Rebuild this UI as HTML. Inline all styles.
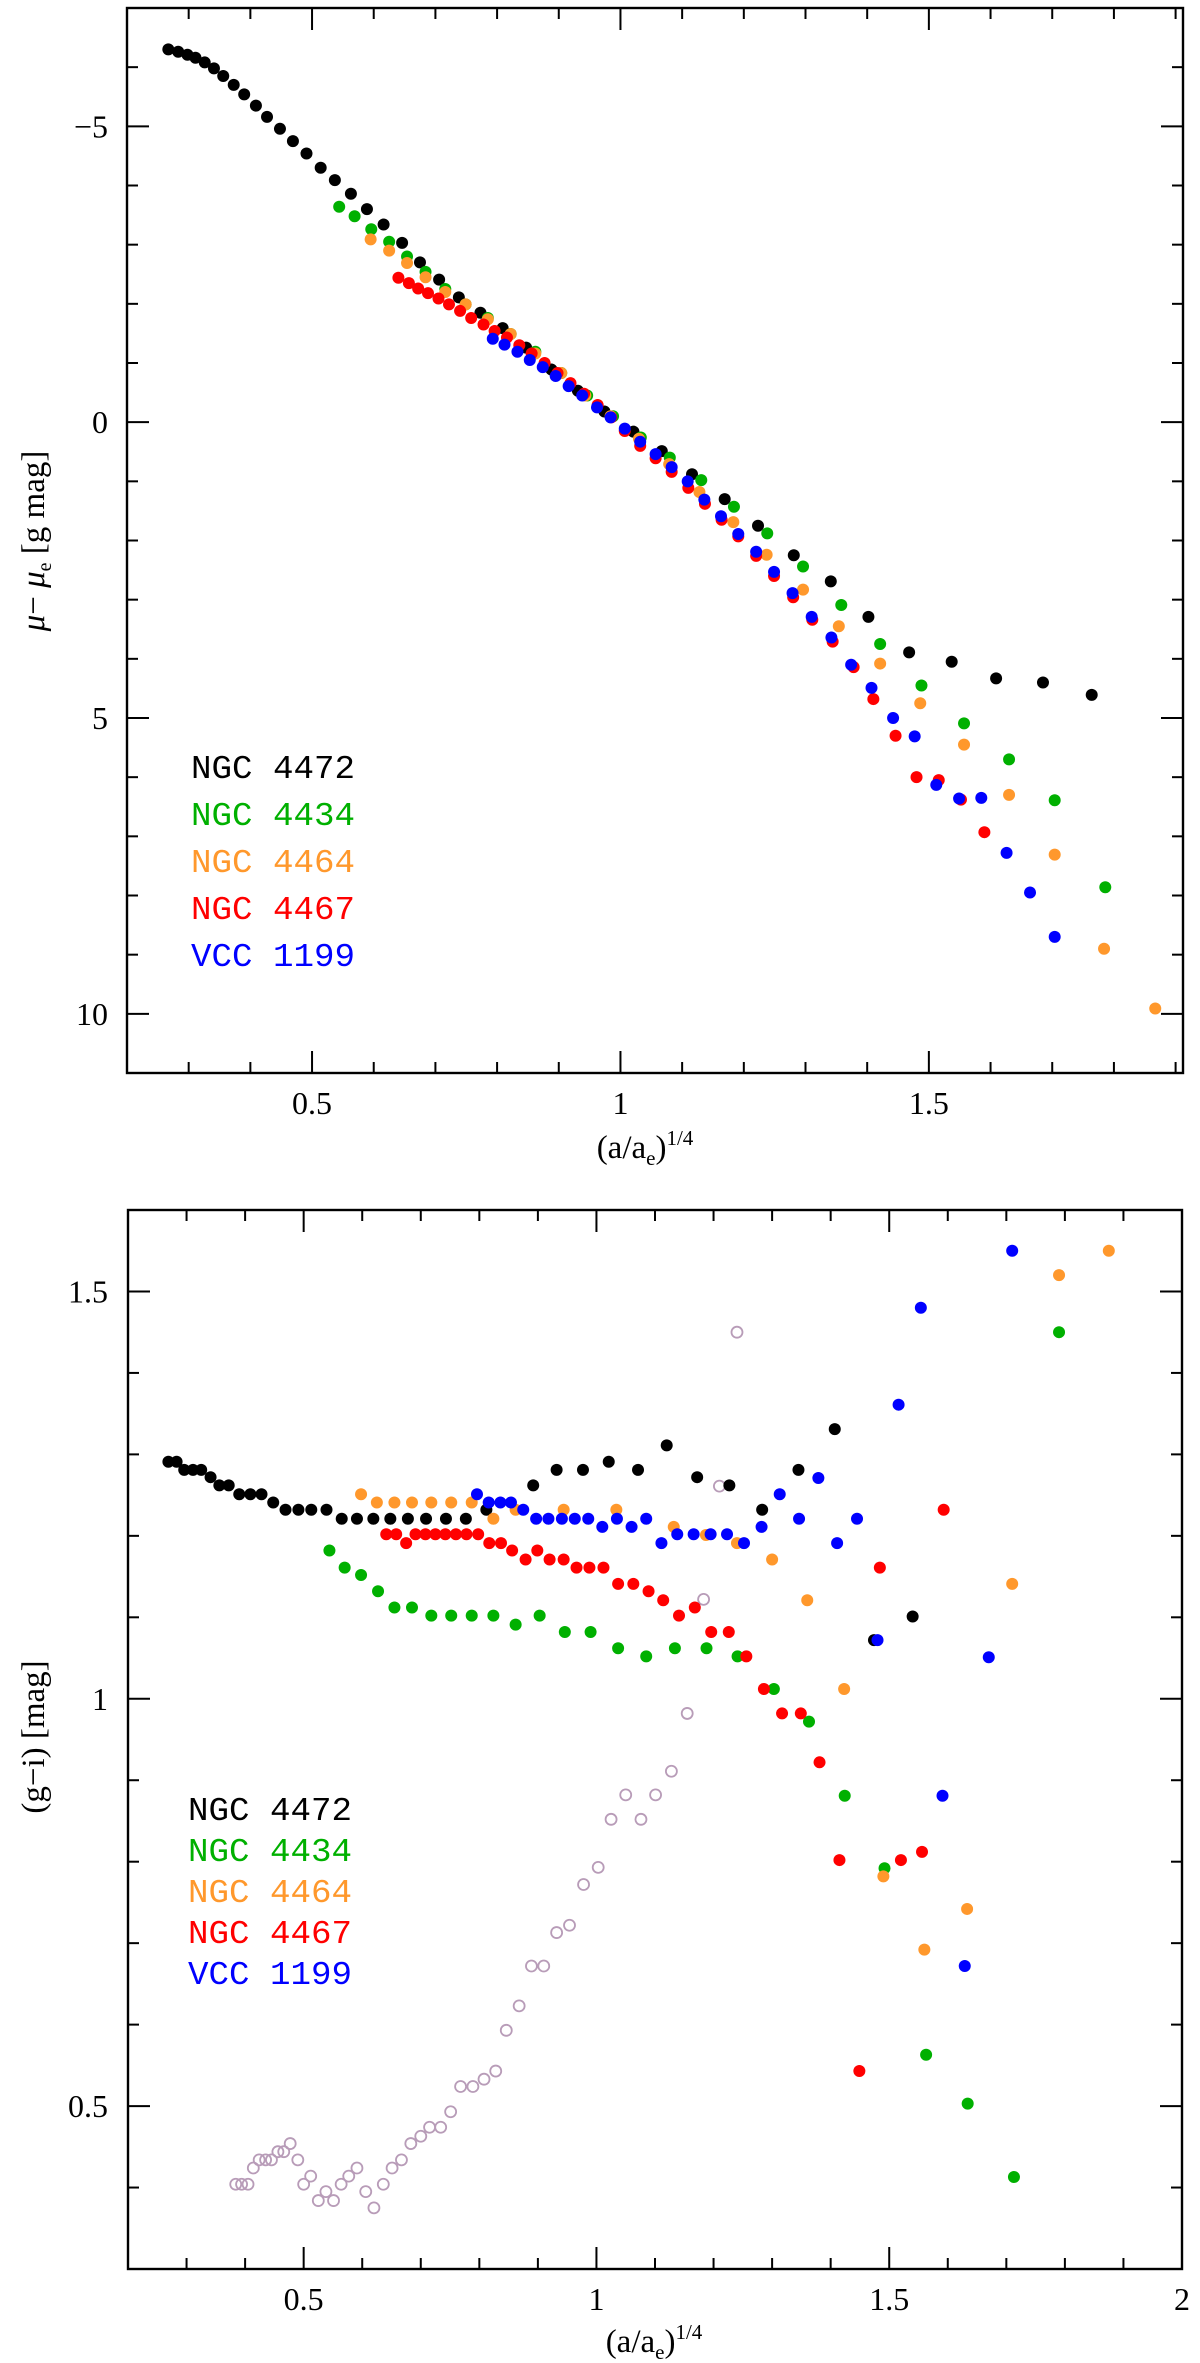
<!DOCTYPE html>
<html><head><meta charset="utf-8"><style>
html,body{margin:0;padding:0;background:#fff;}
svg{display:block;}
text{font-family:"Liberation Serif",serif;}
</style></head><body>
<svg id="fig" width="1200" height="2363" viewBox="0 0 1200 2363" xmlns="http://www.w3.org/2000/svg">
<g id="top"></g>
<g id="bot"></g>
<text x="645" y="1158" text-anchor="middle" font-size="33">(a/a<tspan font-size="21" dy="7">e</tspan><tspan dy="-7">)</tspan><tspan font-size="21" dy="-13">1/4</tspan></text>
<text transform="translate(44,541) rotate(-90)" text-anchor="middle" font-size="33"><tspan font-style="italic">μ</tspan>− <tspan font-style="italic">μ</tspan><tspan font-size="20" dy="7">e</tspan><tspan dy="-7"> [g mag]</tspan></text>
<text x="654" y="2352" text-anchor="middle" font-size="33">(a/a<tspan font-size="21" dy="7">e</tspan><tspan dy="-7">)</tspan><tspan font-size="21" dy="-13">1/4</tspan></text>
<text transform="translate(44,1737) rotate(-90)" text-anchor="middle" font-size="33">(g−i) [mag]</text>
</svg>
<script>
// ---- top panel data: (a/ae)^1/4 vs mu - mu_e ----
const topBlackX=[0.267,0.283,0.298,0.311,0.326,0.341,0.356,0.373,0.390,0.409,0.427,0.448,0.469,0.491,0.514,0.537,0.563,0.589,0.616,0.646,0.675,0.706,0.738,0.773,0.809,0.847,0.888,0.931,0.974,1.021,1.067,1.116,1.169,1.223,1.281,1.341,1.402,1.468,1.537,1.609,1.685,1.764];
const topBlackY=[-6.30,-6.26,-6.21,-6.16,-6.08,-5.98,-5.85,-5.70,-5.54,-5.35,-5.16,-4.96,-4.75,-4.54,-4.30,-4.09,-3.86,-3.60,-3.34,-3.03,-2.70,-2.41,-2.11,-1.85,-1.59,-1.26,-0.89,-0.53,-0.18,0.16,0.49,0.88,1.30,1.75,2.25,2.69,3.29,3.89,4.05,4.33,4.40,4.61];
const topGreenX=[0.544,0.569,0.596,0.625,0.654,0.684,0.716,0.749,0.785,0.822,0.862,0.904,0.946,0.988,1.033,1.080,1.131,1.184,1.238,1.296,1.358,1.421,1.488,1.557,1.630,1.704,1.786];
const topGreenY=[-3.64,-3.48,-3.26,-3.05,-2.80,-2.54,-2.25,-1.99,-1.76,-1.49,-1.19,-0.83,-0.45,-0.10,0.26,0.60,0.98,1.43,1.88,2.44,3.09,3.75,4.45,5.09,5.70,6.39,7.86];
const topOrangeX=[0.595,0.625,0.654,0.684,0.716,0.749,0.785,0.822,0.862,0.904,0.943,0.984,1.030,1.079,1.128,1.183,1.237,1.296,1.354,1.421,1.486,1.557,1.630,1.704,1.784,1.867];
const topOrangeY=[-3.09,-2.90,-2.69,-2.45,-2.20,-1.99,-1.74,-1.49,-1.16,-0.83,-0.45,-0.10,0.28,0.71,1.18,1.69,2.24,2.83,3.45,4.08,4.75,5.45,6.30,7.31,8.90,9.91];
const topRedX=[0.640,0.657,0.672,0.688,0.705,0.722,0.740,0.758,0.778,0.796,0.816,0.836,0.856,0.877,0.898,0.919,0.941,0.963,0.985,1.007,1.032,1.057,1.083,1.110,1.137,1.164,1.191,1.220,1.249,1.280,1.311,1.344,1.378,1.410,1.446,1.480,1.516,1.552,1.590];
const topRedY=[-2.44,-2.35,-2.26,-2.18,-2.09,-1.99,-1.88,-1.76,-1.65,-1.54,-1.43,-1.30,-1.16,-1.00,-0.83,-0.66,-0.48,-0.29,-0.08,0.15,0.40,0.61,0.84,1.11,1.38,1.65,1.93,2.26,2.60,2.96,3.34,3.71,4.14,4.68,5.30,6.00,6.05,6.38,6.93];
const topBlueX=[0.793,0.812,0.833,0.853,0.874,0.895,0.916,0.938,0.962,0.984,1.007,1.032,1.057,1.083,1.109,1.136,1.163,1.191,1.220,1.249,1.279,1.310,1.342,1.374,1.407,1.442,1.477,1.512,1.549,1.585,1.626,1.664,1.704];
const topBlueY=[-1.41,-1.31,-1.19,-1.05,-0.93,-0.78,-0.61,-0.45,-0.25,-0.08,0.11,0.33,0.54,0.76,1.00,1.31,1.59,1.89,2.19,2.53,2.89,3.29,3.64,4.10,4.49,5.00,5.31,6.13,6.36,6.35,7.28,7.95,8.70];
const topXTicks=["0.5","1","1.5"];
const topYTicks=["-5","0","5","10"];

// ---- bottom panel data: (a/ae)^1/4 vs (g-i) ----
const botBlackX=[0.269,0.283,0.296,0.311,0.325,0.341,0.356,0.372,0.390,0.409,0.428,0.448,0.469,0.491,0.513,0.539,0.565,0.591,0.619,0.648,0.678,0.709,0.743,0.777,0.812,0.892,0.932,0.977,1.021,1.071,1.120,1.172,1.227,1.283,1.345,1.407,1.474,1.540];
const botBlackY=[1.291,1.291,1.281,1.281,1.281,1.272,1.262,1.262,1.251,1.251,1.251,1.241,1.232,1.232,1.232,1.232,1.221,1.221,1.221,1.221,1.221,1.221,1.221,1.221,1.232,1.262,1.281,1.281,1.291,1.281,1.311,1.272,1.262,1.232,1.281,1.331,1.072,1.101];
const botGreenX=[0.544,0.570,0.598,0.627,0.655,0.685,0.718,0.752,0.787,0.824,0.862,0.903,0.946,0.990,1.037,1.085,1.134,1.188,1.241,1.303,1.363,1.424,1.492,1.563,1.634,1.713,1.790];
const botGreenY=[1.182,1.161,1.152,1.132,1.112,1.112,1.102,1.102,1.102,1.102,1.091,1.102,1.082,1.082,1.062,1.052,1.062,1.062,1.052,1.012,0.972,0.881,0.792,0.563,0.503,0.413,1.450];
const botOrangeX=[0.598,0.625,0.655,0.685,0.718,0.752,0.787,0.824,0.862,0.944,1.034,1.132,1.187,1.240,1.300,1.360,1.423,1.490,1.560,1.633,1.710,1.790,1.875];
const botOrangeY=[1.251,1.241,1.241,1.241,1.241,1.241,1.241,1.221,1.232,1.232,1.232,1.211,1.201,1.191,1.171,1.121,1.012,0.782,0.692,0.742,1.141,1.520,1.550];
const botRedX=[0.641,0.658,0.675,0.691,0.708,0.725,0.742,0.760,0.778,0.798,0.817,0.837,0.856,0.879,0.899,0.920,0.944,0.966,0.988,1.012,1.037,1.063,1.089,1.114,1.141,1.168,1.196,1.226,1.256,1.286,1.317,1.349,1.381,1.415,1.449,1.484,1.520,1.556,1.593];
const botRedY=[1.202,1.202,1.191,1.202,1.202,1.202,1.202,1.202,1.202,1.202,1.191,1.191,1.182,1.171,1.182,1.171,1.171,1.161,1.161,1.161,1.141,1.141,1.132,1.121,1.102,1.112,1.082,1.082,1.052,1.012,0.982,0.982,0.922,0.802,0.543,1.161,0.802,0.812,1.232];
const botBlueX=[0.796,0.816,0.836,0.854,0.875,0.897,0.918,0.941,0.963,0.986,1.010,1.035,1.060,1.085,1.111,1.138,1.166,1.195,1.223,1.252,1.282,1.313,1.346,1.379,1.411,1.445,1.480,1.516,1.554,1.591,1.629,1.670,1.710];
const botBlueY=[1.251,1.241,1.241,1.241,1.232,1.221,1.221,1.221,1.221,1.221,1.211,1.221,1.211,1.221,1.191,1.202,1.202,1.202,1.202,1.191,1.211,1.251,1.221,1.271,1.191,1.221,1.072,1.361,1.480,0.881,0.672,1.051,1.550];
const botOpenX=[0.384,0.394,0.405,0.414,0.424,0.435,0.445,0.456,0.466,0.477,0.490,0.500,0.512,0.525,0.538,0.551,0.564,0.577,0.591,0.606,0.620,0.636,0.651,0.667,0.683,0.700,0.715,0.734,0.751,0.768,0.789,0.808,0.828,0.846,0.868,0.889,0.910,0.932,0.954,0.978,1.003,1.025,1.050,1.076,1.101,1.128,1.155,1.183,1.210,1.240];
const botOpenY=[0.404,0.404,0.404,0.424,0.434,0.434,0.434,0.444,0.444,0.454,0.434,0.404,0.414,0.384,0.395,0.384,0.404,0.414,0.424,0.395,0.375,0.404,0.424,0.434,0.454,0.463,0.474,0.474,0.493,0.524,0.524,0.533,0.543,0.593,0.623,0.672,0.672,0.713,0.722,0.772,0.793,0.852,0.882,0.852,0.882,0.911,0.982,1.122,1.261,1.450];
const botXTicks=["0.5","1","1.5","2"];
const botYTicks=["0.5","1","1.5"];
const legendNames=["NGC 4472","NGC 4434","NGC 4464","NGC 4467","VCC 1199"];

const NS="http://www.w3.org/2000/svg";
const COL=["#000000","#00b000","#ff982c","#ff0000","#0000ff"];
function mk(parent,tag,attrs){const e=document.createElementNS(NS,tag);for(const k in attrs)e.setAttribute(k,attrs[k]);parent.appendChild(e);return e;}

function panel(g,cfg){
  const L=cfg.L,R=cfg.R,T=cfg.T,B=cfg.B;
  const sx=v=>L+(v-cfg.x0)/(cfg.x1-cfg.x0)*(R-L);
  const sy=v=>cfg.yInv? T+(v-cfg.y0)/(cfg.y1-cfg.y0)*(B-T) : B-(v-cfg.y0)/(cfg.y1-cfg.y0)*(B-T);
  const frame=mk(g,'rect',{x:L,y:T,width:R-L,height:B-T,fill:'none',stroke:'#000','stroke-width':2.4});
  
  
  for(let i=Math.ceil(cfg.x0*10+1e-6);i<=Math.floor(cfg.x1*10+1e-6);i++){
    const v=i/10,x=sx(v),maj=(i%5===0),len=maj?22:11;
    const t1=mk(g,'line',{x1:x,x2:x,y1:B,y2:B-len,stroke:'#000','stroke-width':2});
    
    
    const t2=mk(g,'line',{x1:x,x2:x,y1:T,y2:T+len,stroke:'#000','stroke-width':2});
    
    
  }
  cfg.xTicks.forEach(s=>{
    const tx=mk(g,'text',{x:sx(parseFloat(s)),y:cfg.xLabY,'text-anchor':'middle','font-size':32});
    tx.textContent=s;
    
    
  });
  const ys=cfg.yMinor;
  for(let i=Math.ceil(cfg.y0/ys-1e-6);i<=Math.floor(cfg.y1/ys+1e-6);i++){
    const v=i*ys,y=sy(v),maj=(Math.abs(Math.round(i)%cfg.yMajEvery)===0),len=maj?22:11;
    const t1=mk(g,'line',{x1:L,x2:L+len,y1:y,y2:y,stroke:'#000','stroke-width':2});
    
    
    const t2=mk(g,'line',{x1:R,x2:R-len,y1:y,y2:y,stroke:'#000','stroke-width':2});
    
    
  }
  cfg.yTicks.forEach(s=>{
    const ty=mk(g,'text',{x:108,y:sy(parseFloat(s))+11,'text-anchor':'end','font-size':32});
    ty.textContent=s.replace('-','\u2212');
    
    
  });
  cfg.series.forEach((s,k)=>{
    const sg=mk(g,'g',{});
    
    
    s.x.forEach((xv,i)=>{
      const c=mk(sg,'circle',{cx:sx(xv),cy:sy(s.y[i]),r:s.open?5.5:6,fill:s.open?'none':s.c,stroke:s.open?s.c:'none','stroke-width':1.8});
      
      
    });
  });
  legendNames.forEach((n,i)=>{
    const t=mk(g,'text',{x:cfg.legX,y:cfg.legY+i*cfg.legDy,fill:COL[i],'font-size':33,textLength:164,lengthAdjust:'spacingAndGlyphs'});
    t.setAttribute('style','font-family:"Liberation Mono",monospace');
    t.textContent=n;
    
    
  });
}

panel(document.getElementById('top'),{L:127,R:1183,T:8,B:1073,x0:0.2,x1:1.912,y0:-7,y1:11,yInv:true,yMinor:1,yMajEvery:5,
  xTicks:topXTicks,yTicks:topYTicks,xLabY:1114,legX:191,legY:778,legDy:47,
  series:[{name:'ngc4472-series',x:topBlackX,y:topBlackY,c:COL[0]},{name:'ngc4434-series',x:topGreenX,y:topGreenY,c:COL[1]},
          {name:'ngc4464-series',x:topOrangeX,y:topOrangeY,c:COL[2]},{name:'ngc4467-series',x:topRedX,y:topRedY,c:COL[3]},
          {name:'vcc1199-series',x:topBlueX,y:topBlueY,c:COL[4]}]});
panel(document.getElementById('bot'),{L:128,R:1182,T:1210,B:2269,x0:0.2,x1:2.0,y0:0.3,y1:1.6,yInv:false,yMinor:0.1,yMajEvery:5,
  xTicks:botXTicks,yTicks:botYTicks,xLabY:2310,legX:188,legY:1820,legDy:41,
  series:[{name:'vcc1199-open-series',x:botOpenX,y:botOpenY,c:'#b89cb8',open:true},
          {name:'ngc4472-series',x:botBlackX,y:botBlackY,c:COL[0]},{name:'ngc4434-series',x:botGreenX,y:botGreenY,c:COL[1]},
          {name:'ngc4464-series',x:botOrangeX,y:botOrangeY,c:COL[2]},{name:'ngc4467-series',x:botRedX,y:botRedY,c:COL[3]},
          {name:'vcc1199-series',x:botBlueX,y:botBlueY,c:COL[4]}]});
</script>
</body></html>
